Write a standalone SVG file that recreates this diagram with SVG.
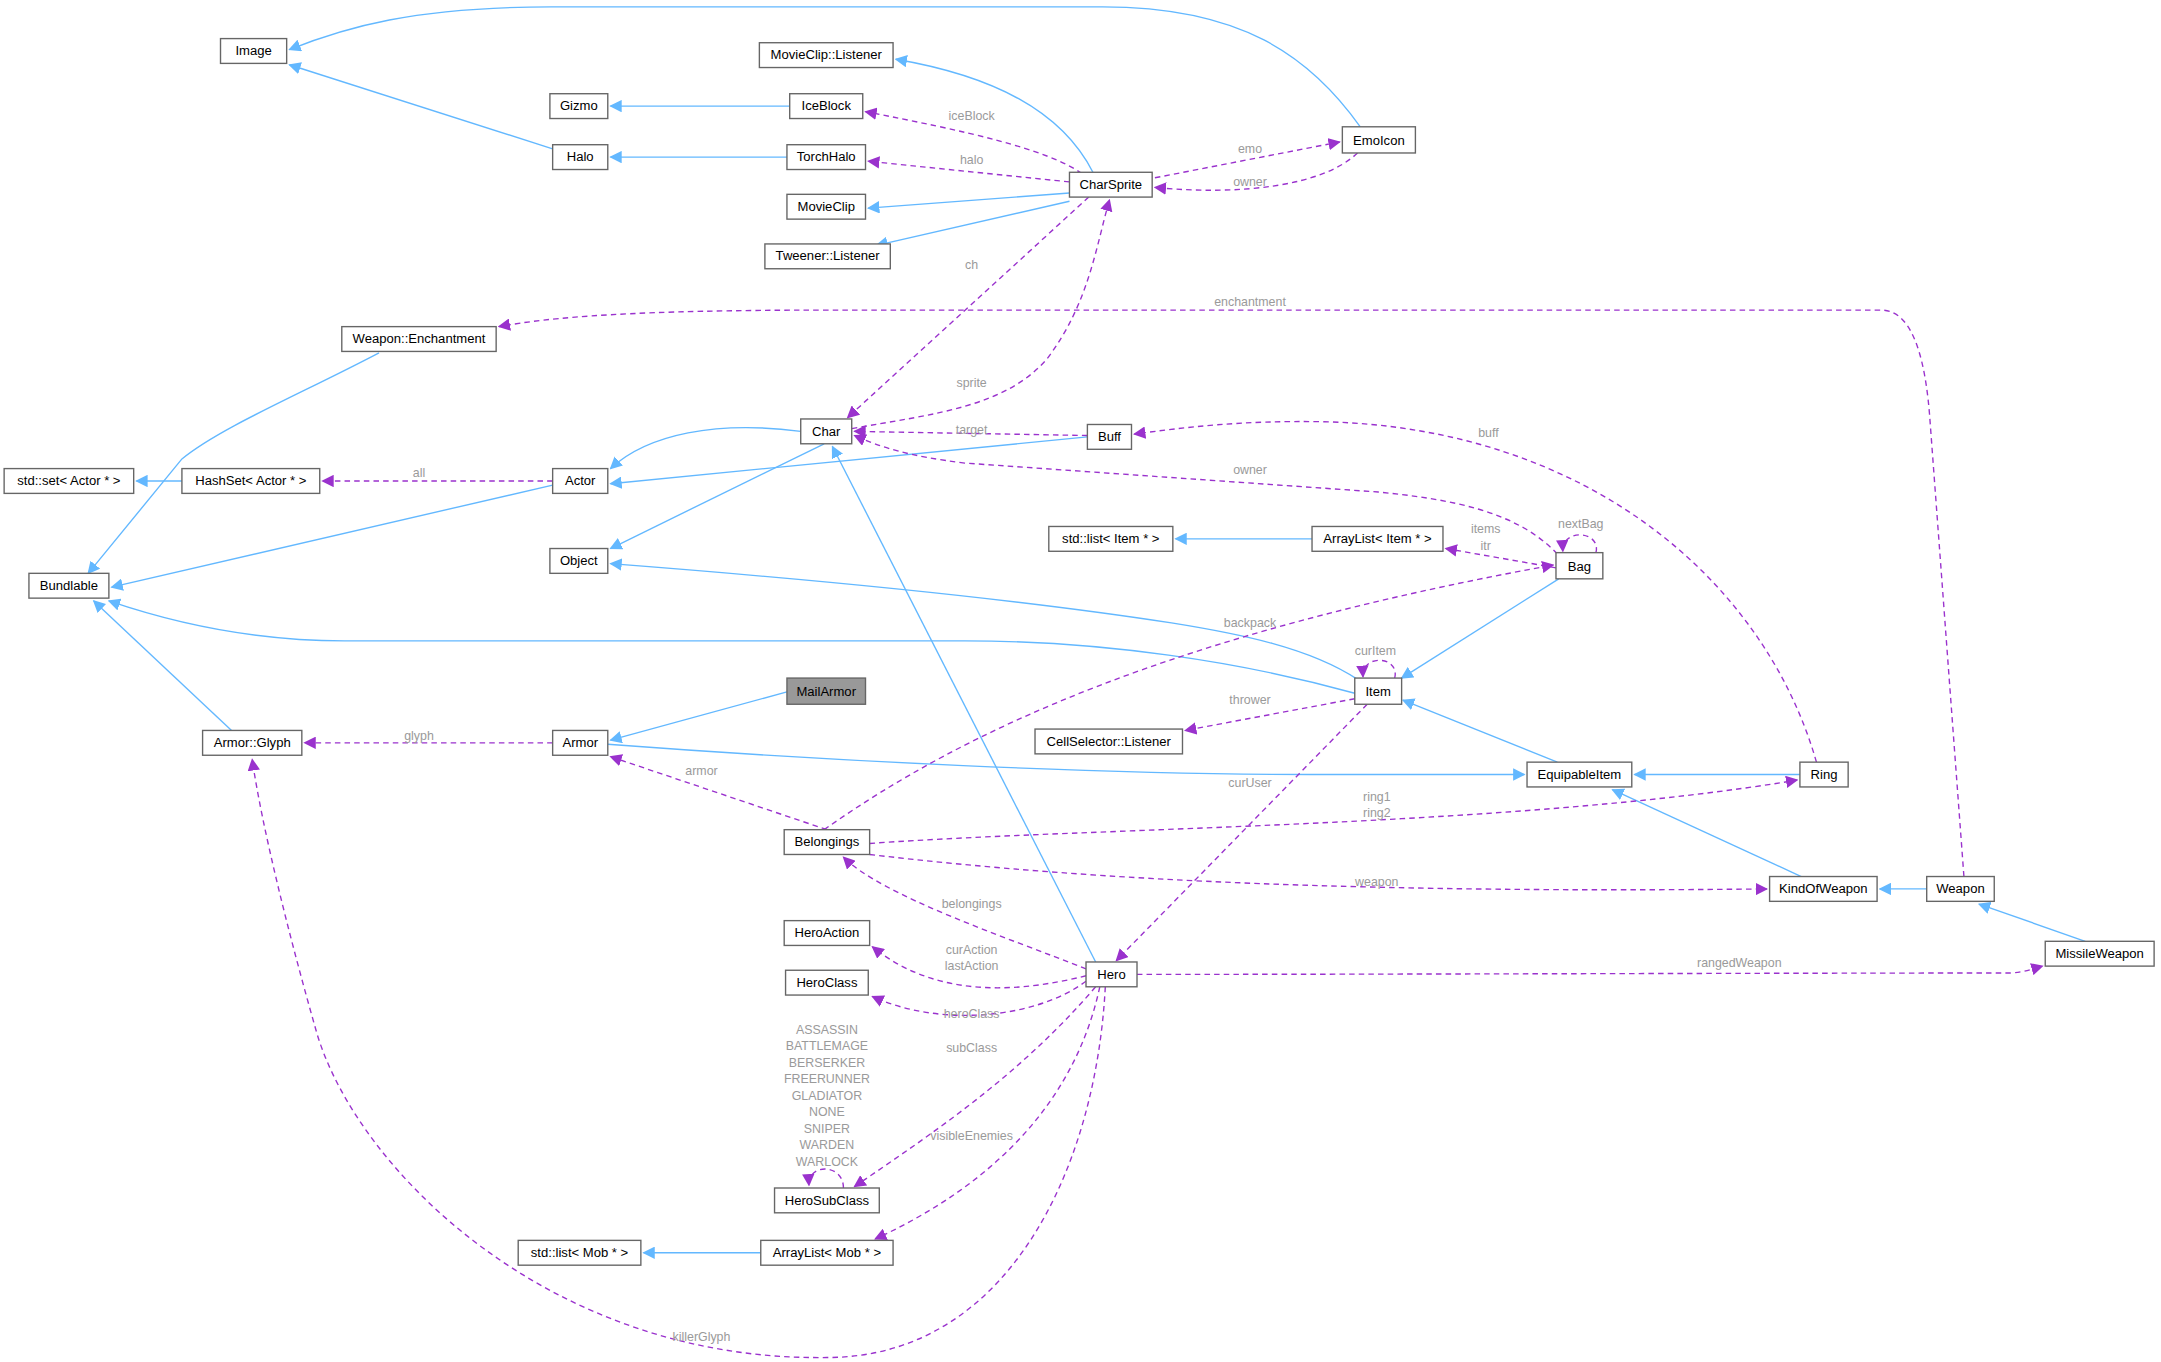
<svg xmlns="http://www.w3.org/2000/svg" width="2161" height="1362" viewBox="0 0 2161 1362">
<style>
.n rect{fill:#fff;stroke:#666;stroke-width:1}
.n text{font-family:"Liberation Sans",Arial,sans-serif;font-size:9.5px;fill:#000;text-anchor:middle}
.i{fill:none;stroke:#63b8ff;stroke-width:1}
.u{fill:none;stroke:#9a32cd;stroke-width:1;stroke-dasharray:4,3}
.l{font-family:"Liberation Sans",Arial,sans-serif;font-size:9px;fill:#9a9a9a;text-anchor:middle}
</style>
<defs>
<marker id="ab" viewBox="0 0 10 10" refX="9" refY="5" markerWidth="9" markerHeight="9" markerUnits="userSpaceOnUse" orient="auto"><path d="M0,0 L10,5 L0,10 z" fill="#63b8ff"/></marker>
<marker id="ap" viewBox="0 0 10 10" refX="9" refY="5" markerWidth="9" markerHeight="9" markerUnits="userSpaceOnUse" orient="auto"><path d="M0,0 L10,5 L0,10 z" fill="#9a32cd"/></marker>
</defs>
<rect width="2161" height="1362" fill="#fff"/>
<g transform="scale(1.37819)">
<g id="connectors">
<g marker-end="url(#ab)">
<path class="i" d="M987,92 C950,40 900,5 800,5 L400,5 C300,5 250,20 210,36"/>
<path class="i" d="M793,125 C770,80 720,55 650,43"/>
<path class="i" d="M573,77 L443,77"/>
<path class="i" d="M401,108 L210,47"/>
<path class="i" d="M571,114 L443,114"/>
<path class="i" d="M776,140 L630,151"/>
<path class="i" d="M776,146 L636,178"/>
<path class="i" d="M275,256 C220,285 160,310 132,333 L64,416"/>
<path class="i" d="M581,313 C520,305 470,315 443,340"/>
<path class="i" d="M598,322 L443,398"/>
<path class="i" d="M789,317 L443,351"/>
<path class="i" d="M132,349 L99,349"/>
<path class="i" d="M401,352 L81,426"/>
<path class="i" d="M952,391 L853,391"/>
<path class="i" d="M1131,420 L1017,492"/>
<path class="i" d="M985,493 C950,470 900,460 850,452 C720,432 560,418 443,409"/>
<path class="i" d="M983,503 C900,480 800,465 700,465 L250,465 C180,465 120,450 79,436"/>
<path class="i" d="M168,530 L68,436"/>
<path class="i" d="M571,502 L443,537"/>
<path class="i" d="M441,540 C600,552 800,562 950,562 L1106,562"/>
<path class="i" d="M1130,553 L1018,508"/>
<path class="i" d="M1306,562 L1186,562"/>
<path class="i" d="M1307,636 L1170,573"/>
<path class="i" d="M1398,645 L1364,645"/>
<path class="i" d="M1513,683 L1436,656"/>
<path class="i" d="M795,698 L604,324"/>
<path class="i" d="M552,909 L467,909"/>
</g>
<g marker-end="url(#ap)">
<path class="u" d="M785,126 C760,108 700,95 628,81"/>
<path class="u" d="M776,132 L630,117"/>
<path class="u" d="M838,129 L972,103"/>
<path class="u" d="M985,111 C960,135 900,142 838,136"/>
<path class="u" d="M790,143 L615,303"/>
<path class="u" d="M618,311 C680,300 730,295 760,260 C790,220 795,180 805,145"/>
<path class="u" d="M1425,636 L1400,300 C1395,240 1380,225 1365,225 L600,225 C460,225 400,230 362,237"/>
<path class="u" d="M789,316 L620,313"/>
<path class="u" d="M1130,402 C1100,370 1050,362 1000,357 L700,336 C660,331 640,325 620,316"/>
<path class="u" d="M1318,553 C1280,420 1150,310 960,306 C900,305 860,310 823,315"/>
<path class="u" d="M1129,412 L1049,398"/>
<path class="u" d="M1158,401 C1162,385 1133,383 1134,400"/>
<path class="u" d="M598,602 C700,530 850,460 1127,410"/>
<path class="u" d="M1012,492 C1016,476 988,474 989,491"/>
<path class="u" d="M983,507 L860,530"/>
<path class="u" d="M992,511 L810,697"/>
<path class="u" d="M600,602 L443,549"/>
<path class="u" d="M631,612 C800,600 1100,600 1304,566"/>
<path class="u" d="M631,620 C800,640 1000,648 1282,645"/>
<path class="u" d="M788,703 C730,680 640,650 612,622"/>
<path class="u" d="M788,708 C740,720 680,725 633,687"/>
<path class="u" d="M788,712 C750,740 680,745 633,723"/>
<path class="u" d="M795,716 C740,780 680,820 620,861"/>
<path class="u" d="M612,862 C612,844 586,844 587,860"/>
<path class="u" d="M798,716 C780,800 720,860 635,899"/>
<path class="u" d="M802,716 C795,850 730,985 600,985 C400,988 260,850 230,750 C210,680 190,600 183,551"/>
<path class="u" d="M401,539 L221,539"/>
<path class="u" d="M401,349 L234,349"/>
<path class="u" d="M825,707 C1000,707 1300,706 1460,706 C1470,705 1475,703 1482,701"/>
</g>
<g class="l">
<text x="705" y="87">iceBlock</text>
<text x="705" y="119">halo</text>
<text x="907" y="111">emo</text>
<text x="907" y="135">owner</text>
<text x="705" y="195">ch</text>
<text x="705" y="281">sprite</text>
<text x="907" y="222">enchantment</text>
<text x="705" y="315">target</text>
<text x="907" y="344">owner</text>
<text x="1080" y="317">buff</text>
<text x="1078" y="387">items</text>
<text x="1078" y="399">itr</text>
<text x="1147" y="383">nextBag</text>
<text x="907" y="455">backpack</text>
<text x="998" y="475">curItem</text>
<text x="907" y="511">thrower</text>
<text x="907" y="571">curUser</text>
<text x="509" y="562">armor</text>
<text x="999" y="581">ring1</text>
<text x="999" y="593">ring2</text>
<text x="999" y="643">weapon</text>
<text x="705" y="659">belongings</text>
<text x="705" y="692">curAction</text>
<text x="705" y="704">lastAction</text>
<text x="705" y="739">heroClass</text>
<text x="705" y="763">subClass</text>
<text x="600" y="750">ASSASSIN</text>
<text x="600" y="762">BATTLEMAGE</text>
<text x="600" y="774">BERSERKER</text>
<text x="600" y="786">FREERUNNER</text>
<text x="600" y="798">GLADIATOR</text>
<text x="600" y="810">NONE</text>
<text x="600" y="822">SNIPER</text>
<text x="600" y="834">WARDEN</text>
<text x="600" y="846">WARLOCK</text>
<text x="705" y="827">visibleEnemies</text>
<text x="509" y="973">killerGlyph</text>
<text x="304" y="537">glyph</text>
<text x="304" y="346">all</text>
<text x="1262" y="702">rangedWeapon</text>
</g>
</g>
<g id="Image" class="n"><rect x="160" y="28" width="48" height="18"/><text x="184" y="40">Image</text></g>
<g id="MovieClipListener" class="n"><rect x="551" y="31" width="97" height="18"/><text x="599.5" y="43">MovieClip::Listener</text></g>
<g id="Gizmo" class="n"><rect x="399" y="68" width="42" height="18"/><text x="420" y="80">Gizmo</text></g>
<g id="IceBlock" class="n"><rect x="573" y="68" width="53" height="18"/><text x="599.5" y="80">IceBlock</text></g>
<g id="Halo" class="n"><rect x="401" y="105" width="40" height="18"/><text x="421" y="117">Halo</text></g>
<g id="TorchHalo" class="n"><rect x="571" y="105" width="57" height="18"/><text x="599.5" y="117">TorchHalo</text></g>
<g id="MovieClip" class="n"><rect x="571" y="141" width="57" height="18"/><text x="599.5" y="153">MovieClip</text></g>
<g id="TweenerListener" class="n"><rect x="555" y="177" width="91" height="18"/><text x="600.5" y="189">Tweener::Listener</text></g>
<g id="CharSprite" class="n"><rect x="776" y="125" width="60" height="18"/><text x="806" y="137">CharSprite</text></g>
<g id="EmoIcon" class="n"><rect x="974" y="92" width="53" height="19"/><text x="1000.5" y="105">EmoIcon</text></g>
<g id="WeaponEnchantment" class="n"><rect x="248" y="237" width="112" height="18"/><text x="304" y="249">Weapon::Enchantment</text></g>
<g id="Char" class="n"><rect x="581" y="304" width="37" height="18"/><text x="599.5" y="316">Char</text></g>
<g id="Buff" class="n"><rect x="789" y="308" width="32" height="18"/><text x="805" y="320">Buff</text></g>
<g id="stdsetActor" class="n"><rect x="3" y="340" width="94" height="18"/><text x="50" y="352">std::set&lt; Actor * &gt;</text></g>
<g id="HashSetActor" class="n"><rect x="132" y="340" width="100" height="18"/><text x="182" y="352">HashSet&lt; Actor * &gt;</text></g>
<g id="Actor" class="n"><rect x="401" y="340" width="40" height="18"/><text x="421" y="352">Actor</text></g>
<g id="Object" class="n"><rect x="399" y="398" width="42" height="18"/><text x="420" y="410">Object</text></g>
<g id="Bundlable" class="n"><rect x="21" y="416" width="58" height="18"/><text x="50" y="428">Bundlable</text></g>
<g id="stdlistItem" class="n"><rect x="761" y="382" width="90" height="18"/><text x="806" y="394">std::list&lt; Item * &gt;</text></g>
<g id="ArrayListItem" class="n"><rect x="952" y="382" width="95" height="18"/><text x="999.5" y="394">ArrayList&lt; Item * &gt;</text></g>
<g id="Bag" class="n"><rect x="1129" y="401" width="34" height="19"/><text x="1146" y="414">Bag</text></g>
<g id="Item" class="n"><rect x="983" y="492" width="34" height="19"/><text x="1000" y="505">Item</text></g>
<g id="MailArmor"><rect x="571" y="492" width="57" height="19" fill="#999" stroke="#666"/><text x="599.5" y="505" font-family="Liberation Sans,Arial,sans-serif" font-size="9.5" text-anchor="middle">MailArmor</text></g>
<g id="ArmorGlyph" class="n"><rect x="147" y="530" width="72" height="18"/><text x="183" y="542">Armor::Glyph</text></g>
<g id="Armor" class="n"><rect x="401" y="530" width="40" height="18"/><text x="421" y="542">Armor</text></g>
<g id="CellSelectorListener" class="n"><rect x="751" y="529" width="107" height="18"/><text x="804.5" y="541">CellSelector::Listener</text></g>
<g id="EquipableItem" class="n"><rect x="1108" y="553" width="76" height="18"/><text x="1146" y="565">EquipableItem</text></g>
<g id="Ring" class="n"><rect x="1306" y="553" width="35" height="18"/><text x="1323.5" y="565">Ring</text></g>
<g id="Belongings" class="n"><rect x="569" y="602" width="62" height="18"/><text x="600" y="614">Belongings</text></g>
<g id="KindOfWeapon" class="n"><rect x="1284" y="636" width="78" height="18"/><text x="1323" y="648">KindOfWeapon</text></g>
<g id="Weapon" class="n"><rect x="1398" y="636" width="49" height="18"/><text x="1422.5" y="648">Weapon</text></g>
<g id="HeroAction" class="n"><rect x="569" y="668" width="62" height="18"/><text x="600" y="680">HeroAction</text></g>
<g id="HeroClass" class="n"><rect x="570" y="704" width="60" height="18"/><text x="600" y="716">HeroClass</text></g>
<g id="Hero" class="n"><rect x="788" y="698" width="37" height="18"/><text x="806.5" y="710">Hero</text></g>
<g id="MissileWeapon" class="n"><rect x="1484" y="683" width="79" height="18"/><text x="1523.5" y="695">MissileWeapon</text></g>
<g id="HeroSubClass" class="n"><rect x="562" y="862" width="76" height="18"/><text x="600" y="874">HeroSubClass</text></g>
<g id="stdlistMob" class="n"><rect x="376" y="900" width="89" height="18"/><text x="420.5" y="912">std::list&lt; Mob * &gt;</text></g>
<g id="ArrayListMob" class="n"><rect x="552" y="900" width="96" height="18"/><text x="600" y="912">ArrayList&lt; Mob * &gt;</text></g>
</g>
</svg>
